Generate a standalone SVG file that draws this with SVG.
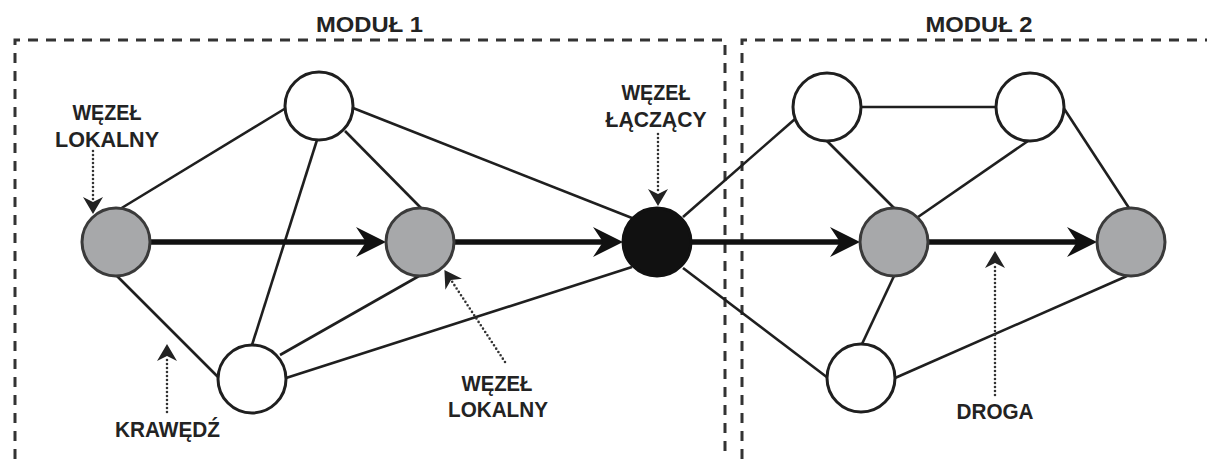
<svg xmlns="http://www.w3.org/2000/svg" width="1207" height="459" viewBox="0 0 1207 459">
<style>
.txt{font-family:"Liberation Sans",Arial,sans-serif;font-weight:bold;font-size:22px;fill:#232323;text-anchor:middle}
.ttl{font-size:22px}
.mod{fill:none;stroke:#333;stroke-width:3;stroke-dasharray:10 8}
.edge{stroke:#1f1f1f;stroke-width:2.6;fill:none}
.path{stroke:#111;stroke-width:5.5;fill:none;marker-end:url(#big)}
.dot{stroke:#333;stroke-width:2.6;fill:none;stroke-dasharray:0 4;stroke-linecap:round;marker-end:url(#small)}
.white{fill:#fff;stroke:#1f1f1f;stroke-width:3}
.gray{fill:#a7a8aa;stroke:#3a3a3a;stroke-width:3}
.black{fill:#111;stroke:#111;stroke-width:3}
</style>
<defs>
<marker id="big" markerUnits="userSpaceOnUse" markerWidth="31" markerHeight="31" viewBox="0 0 31 31" refX="10" refY="15" orient="auto">
<path d="M30,15 L0,0 L10,15 L0,30 Z" fill="#111"/>
</marker>
<marker id="small" markerUnits="userSpaceOnUse" markerWidth="18" markerHeight="21" viewBox="0 0 18 21" refX="5" refY="10" orient="auto">
<path d="M17,10 L0,0 L5,10 L0,20 Z" fill="#222"/>
</marker>
</defs>
<g id="modules">
<path class="mod" d="M15,459 V40 H725 V459"/>
<path class="mod" d="M742,459 V40 H1207"/>
<text class="txt ttl" x="369.5" y="32" textLength="107" lengthAdjust="spacingAndGlyphs">MODUŁ 1</text>
<text class="txt ttl" x="979" y="32" textLength="107" lengthAdjust="spacingAndGlyphs">MODUŁ 2</text>
</g>
<g id="connectors">
<line class="edge" x1="120" y1="209" x2="286" y2="108"/>
<line class="edge" x1="117" y1="276" x2="219" y2="378"/>
<line class="edge" x1="345" y1="131" x2="421" y2="208"/>
<line class="edge" x1="317" y1="140" x2="252" y2="345"/>
<line class="edge" x1="353" y1="108" x2="632" y2="218"/>
<line class="edge" x1="419" y1="276" x2="280" y2="355"/>
<line class="edge" x1="286" y1="378" x2="632" y2="267"/>
<line class="edge" x1="683" y1="217" x2="795" y2="119"/>
<line class="edge" x1="683" y1="268" x2="828" y2="378"/>
<line class="edge" x1="861" y1="107" x2="996" y2="107"/>
<line class="edge" x1="827" y1="141" x2="894" y2="208"/>
<line class="edge" x1="1028" y1="141" x2="918" y2="217"/>
<line class="edge" x1="1063" y1="107" x2="1129" y2="208"/>
<line class="edge" x1="894" y1="276" x2="862" y2="344"/>
<line class="edge" x1="895" y1="378" x2="1127" y2="276"/>
<line class="path" x1="150" y1="242" x2="366" y2="242"/>
<line class="path" x1="454" y1="242" x2="603" y2="242"/>
<line class="path" x1="691" y1="242" x2="840" y2="242"/>
<line class="path" x1="928" y1="242" x2="1077" y2="242"/>
</g>
<g id="n_L1"><circle class="gray" cx="116" cy="242" r="34"/></g>
<g id="n_T1"><circle class="white" cx="319" cy="106" r="34"/></g>
<g id="n_L2"><circle class="gray" cx="420" cy="242" r="34"/></g>
<g id="n_B1"><circle class="white" cx="252" cy="379" r="34"/></g>
<g id="n_J"><circle class="black" cx="657" cy="242" r="34"/></g>
<g id="n_TL"><circle class="white" cx="827" cy="107" r="34"/></g>
<g id="n_TR"><circle class="white" cx="1030" cy="107" r="34"/></g>
<g id="n_G2"><circle class="gray" cx="894" cy="242" r="34"/></g>
<g id="n_GR"><circle class="gray" cx="1131" cy="242" r="34"/></g>
<g id="n_B2"><circle class="white" cx="861" cy="378" r="34"/></g>
<g id="annotations">
<g id="a_local1">
<text class="txt" x="107" y="120" textLength="69" lengthAdjust="spacingAndGlyphs">WĘZEŁ</text>
<text class="txt" x="107" y="147" textLength="104" lengthAdjust="spacingAndGlyphs">LOKALNY</text>
<line class="dot" x1="93" y1="151" x2="93" y2="202"/>
</g>
<g id="a_join">
<text class="txt" x="656" y="100" textLength="69" lengthAdjust="spacingAndGlyphs">WĘZEŁ</text>
<text class="txt" x="656" y="127" textLength="101" lengthAdjust="spacingAndGlyphs">ŁĄCZĄCY</text>
<line class="dot" x1="658" y1="134" x2="658" y2="194"/>
</g>
<g id="a_edge">
<text class="txt" x="167.5" y="437" textLength="105" lengthAdjust="spacingAndGlyphs">KRAWĘDŹ</text>
<line class="dot" x1="167" y1="412" x2="167" y2="356"/>
</g>
<g id="a_local2">
<text class="txt" x="497" y="391" textLength="71" lengthAdjust="spacingAndGlyphs">WĘZEŁ</text>
<text class="txt" x="498" y="417" textLength="100" lengthAdjust="spacingAndGlyphs">LOKALNY</text>
<line class="dot" x1="505" y1="362" x2="451" y2="280"/>
</g>
<g id="a_path">
<text class="txt" x="995" y="419" textLength="77" lengthAdjust="spacingAndGlyphs">DROGA</text>
<line class="dot" x1="995" y1="395" x2="995" y2="263"/>
</g>
</g>
</svg>
